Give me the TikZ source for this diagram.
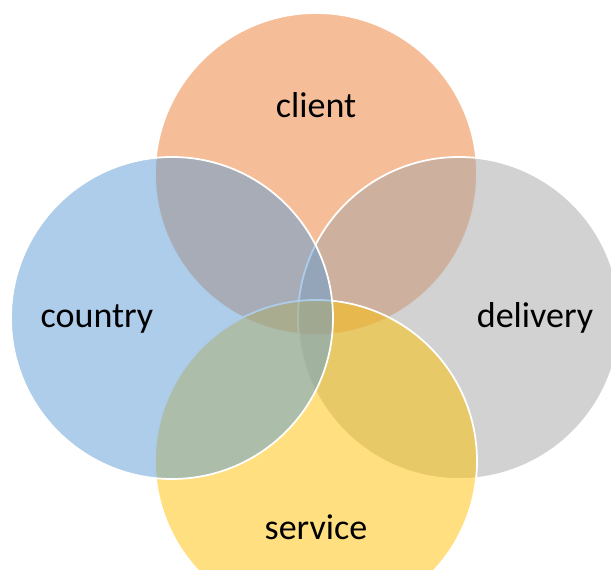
\documentclass[tikz,border=0pt]{standalone}
\usepackage{fontspec}
\setmainfont{Carlito}
\definecolor{clientcol}{HTML}{ED7D31}
\definecolor{deliverycol}{HTML}{A5A5A5}
\definecolor{servicecol}{HTML}{FFC000}
\definecolor{countrycol}{HTML}{5B9BD5}
\tikzset{
  venncircle/.style={draw=white, line width=1pt, fill opacity=0.5},
  vennlabel/.style={font=\fontsize{20.5}{24}\selectfont, anchor=base, inner sep=0pt}
}

\begin{document}
\begin{tikzpicture}
  % Frame
  \useasboundingbox (-6.32,-5.02) rectangle (5.90,6.36);
  % Circles
  \foreach \x/\y/\c in {0/2.88/clientcol, 2.86/0/deliverycol, 0/-2.86/servicecol, -2.88/0/countrycol}{
    \filldraw[venncircle, fill=\c] (\x,\y) circle (3.22);
  }
  % Labels
  \node[vennlabel] (client) at (0,4.0) {client};
  \node[vennlabel] (delivery) at (4.38,-0.2) {delivery};
  \node[vennlabel] (service) at (0,-4.42) {service};
  \node[vennlabel] (country) at (-4.38,-0.2) {country};
\end{tikzpicture}
\end{document}
